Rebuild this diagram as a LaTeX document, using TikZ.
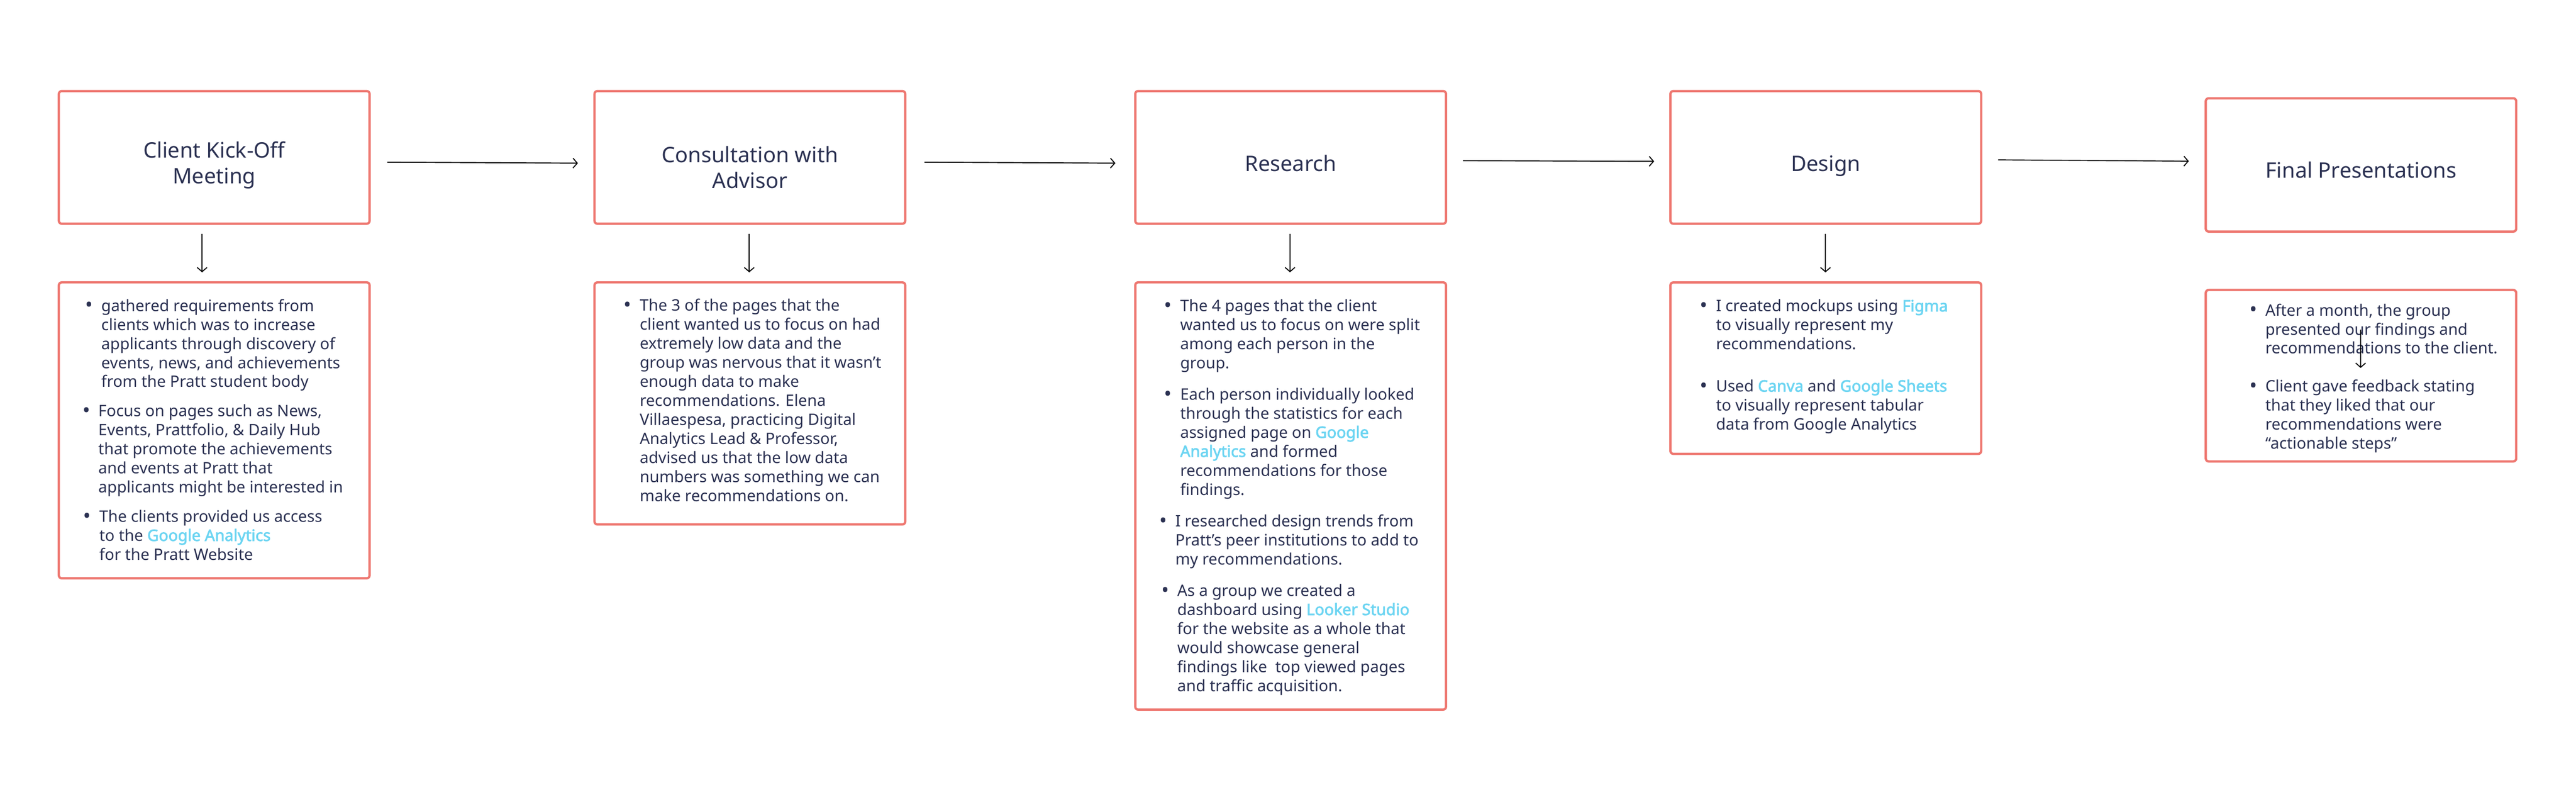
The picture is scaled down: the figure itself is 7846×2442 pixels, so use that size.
\documentclass[tikz,border=0pt]{standalone}
\usepackage{fontspec}
\setmainfont{Noto Sans}
\newfontfamily\hlfont{Noto Sans}[FakeBold=2.5]
\usetikzlibrary{arrows.meta,calc}
\definecolor{boxred}{HTML}{EE7770}
\definecolor{ink}{HTML}{2B3152}
\definecolor{hlblue}{HTML}{6DD5F2}
\newcommand\hl[1]{\textcolor{hlblue}{\hlfont #1}}
\newcommand\bul{\llap{\raisebox{-0.03cm}{\scalebox{1.3}{\textbullet}}\hspace{0.25cm}}}
\tikzset{
  stagebox/.style={draw=boxred, line width=0.07cm, rounded corners=0.09cm,
    minimum width=9.46cm, outer sep=0pt, inner sep=0pt},
  titletext/.style={text=ink, font=\fontsize{18.5pt}{22.2pt}\selectfont,
    align=center, anchor=base, inner sep=0pt},
  itemtext/.style={text=ink, font=\fontsize{13.7pt}{16.5pt}\selectfont,
    align=left, anchor=base west, inner sep=0pt},
  flow/.style={draw=black, line width=0.03cm,
    -{Straight Barb[length=0.13cm,width=0.3cm]}},
}
\begin{document}
\begin{tikzpicture}[x=0.01cm,y=-0.01cm]
\useasboundingbox[fill=white] (0,0) rectangle (7846,2442);

% stage boxes
\node[stagebox, minimum height=4.04cm] (t1) at (652.5,479.5) {};
\node[stagebox, minimum height=4.04cm] (t2) at (2284,479.5) {};
\node[stagebox, minimum height=4.04cm] (t3) at (3931,479.5) {};
\node[stagebox, minimum height=4.04cm] (t4) at (5561,479.5) {};
\node[stagebox, minimum height=4.06cm, minimum width=9.45cm] (t5) at (7191,502.5) {};

% detail boxes
\node[stagebox, minimum height=9.01cm] (d1) at (652.5,1311) {};
\node[stagebox, minimum height=7.37cm] (d2) at (2284,1229) {};
\node[stagebox, minimum height=13.01cm] (d3) at (3931,1511) {};
\node[stagebox, minimum height=5.22cm] (d4) at (5561,1121.5) {};
\node[stagebox, minimum height=5.22cm, minimum width=9.45cm] (d5) at (7191,1144.5) {};

% titles (anchor base = baseline of the last line)
\node[titletext] (t1l) at (652.5,559) {Client Kick-Off\\Meeting};
\node[titletext] (t2l) at (2284,573) {Consultation with\\Advisor};
\node[titletext] (t3l) at (3931,522) {Research};
\node[titletext] (t4l) at (5561,521) {Design};
\node[titletext] (t5l) at (7191,542) {Final Presentations};

% box 1 items
\node[itemtext] (d1a) at (308,1180) {\bul gathered requirements from\\clients which was to increase\\applicants through discovery of\\events, news, and achievements\\from the Pratt student body};
\node[itemtext] (d1b) at (299,1501) {\bul Focus on pages such as News,\\Events, Prattfolio, \& Daily Hub\\that promote the achievements\\and events at Pratt that\\applicants might be interested in};
\node[itemtext] (d1c) at (302,1706) {\bul The clients provided us access\\to the \hl{Google Analytics}\\for the Pratt Website};

% box 2 items
\node[itemtext] (d2a) at (1948,1528) {\bul The 3 of the pages that the\\client wanted us to focus on had\\extremely low data and the\\group was nervous that it wasn’t\\enough data to make\\recommendations. Elena\\Villaespesa, practicing Digital\\Analytics Lead \& Professor,\\advised us that the low data\\numbers was something we can\\make recommendations on.};

% box 3 items
\node[itemtext] (d3a) at (3594,1122) {\bul The 4 pages that the client\\wanted us to focus on were split\\among each person in the\\group.};
\node[itemtext] (d3b) at (3594,1508) {\bul Each person individually looked\\through the statistics for each\\assigned page on \hl{Google}\\\hl{Analytics} and formed\\recommendations for those\\findings.};
\node[itemtext] (d3c) at (3579,1720) {\bul I researched design trends from\\Pratt’s peer institutions to add to\\my recommendations.};
\node[itemtext] (d3d) at (3585,2106) {\bul As a group we created a\\dashboard using \hl{Looker Studio}\\for the website as a whole that\\would showcase general\\findings like\ \ top viewed pages\\and traffic acquisition.};

% box 4 items
\node[itemtext] (d4a) at (5226,1065) {\bul I created mockups using \hl{Figma}\\to visually represent my\\recommendations.};
\node[itemtext] (d4b) at (5226,1309) {\bul Used \hl{Canva} and \hl{Google Sheets}\\to visually represent tabular\\data from Google Analytics};

% box 5 items
\node[itemtext] (d5a) at (6899,1078) {\bul After a month, the group\\presented our findings and\\recommendations to the client.};
\node[itemtext] (d5b) at (6899,1368) {\bul Client gave feedback stating\\that they liked that our\\recommendations were\\“actionable steps”};

% flow arrows between stages
\draw[flow] ($(t1.east)+(53.5,14.5)$) -- ($(t2.west)+(-50.5,17.5)$);
\draw[flow] ($(t2.east)+(58.5,14.5)$) -- ($(t3.west)+(-60.5,17.5)$);
\draw[flow] ($(t3.east)+(51.5,10)$) -- ($(t4.west)+(-49.5,12)$);
\draw[flow] ($(t4.east)+(51.5,7.5)$) -- ($(t5.west)+(-51.5,-11.5)$);

% arrows from stage to detail
\draw[flow] ($(t1.south)+(-37,30.5)$) -- ($(d1.north)+(-37,-30.5)$);
\draw[flow] ($(t2.south)+(-2,30.5)$) -- ($(d2.north)+(-2,-30.5)$);
\draw[flow] ($(t3.south)+(-2,30.5)$) -- ($(d3.north)+(-2,-30.5)$);
\draw[flow] ($(t4.south)+(-1,30.5)$) -- ($(d4.north)+(-1,-30.5)$);

% stray arrow in the last detail box
\coordinate (s5a) at (7190,1004);
\coordinate (s5b) at (7190,1121);
\draw[flow] (s5a) -- (s5b);
\end{tikzpicture}
\end{document}
